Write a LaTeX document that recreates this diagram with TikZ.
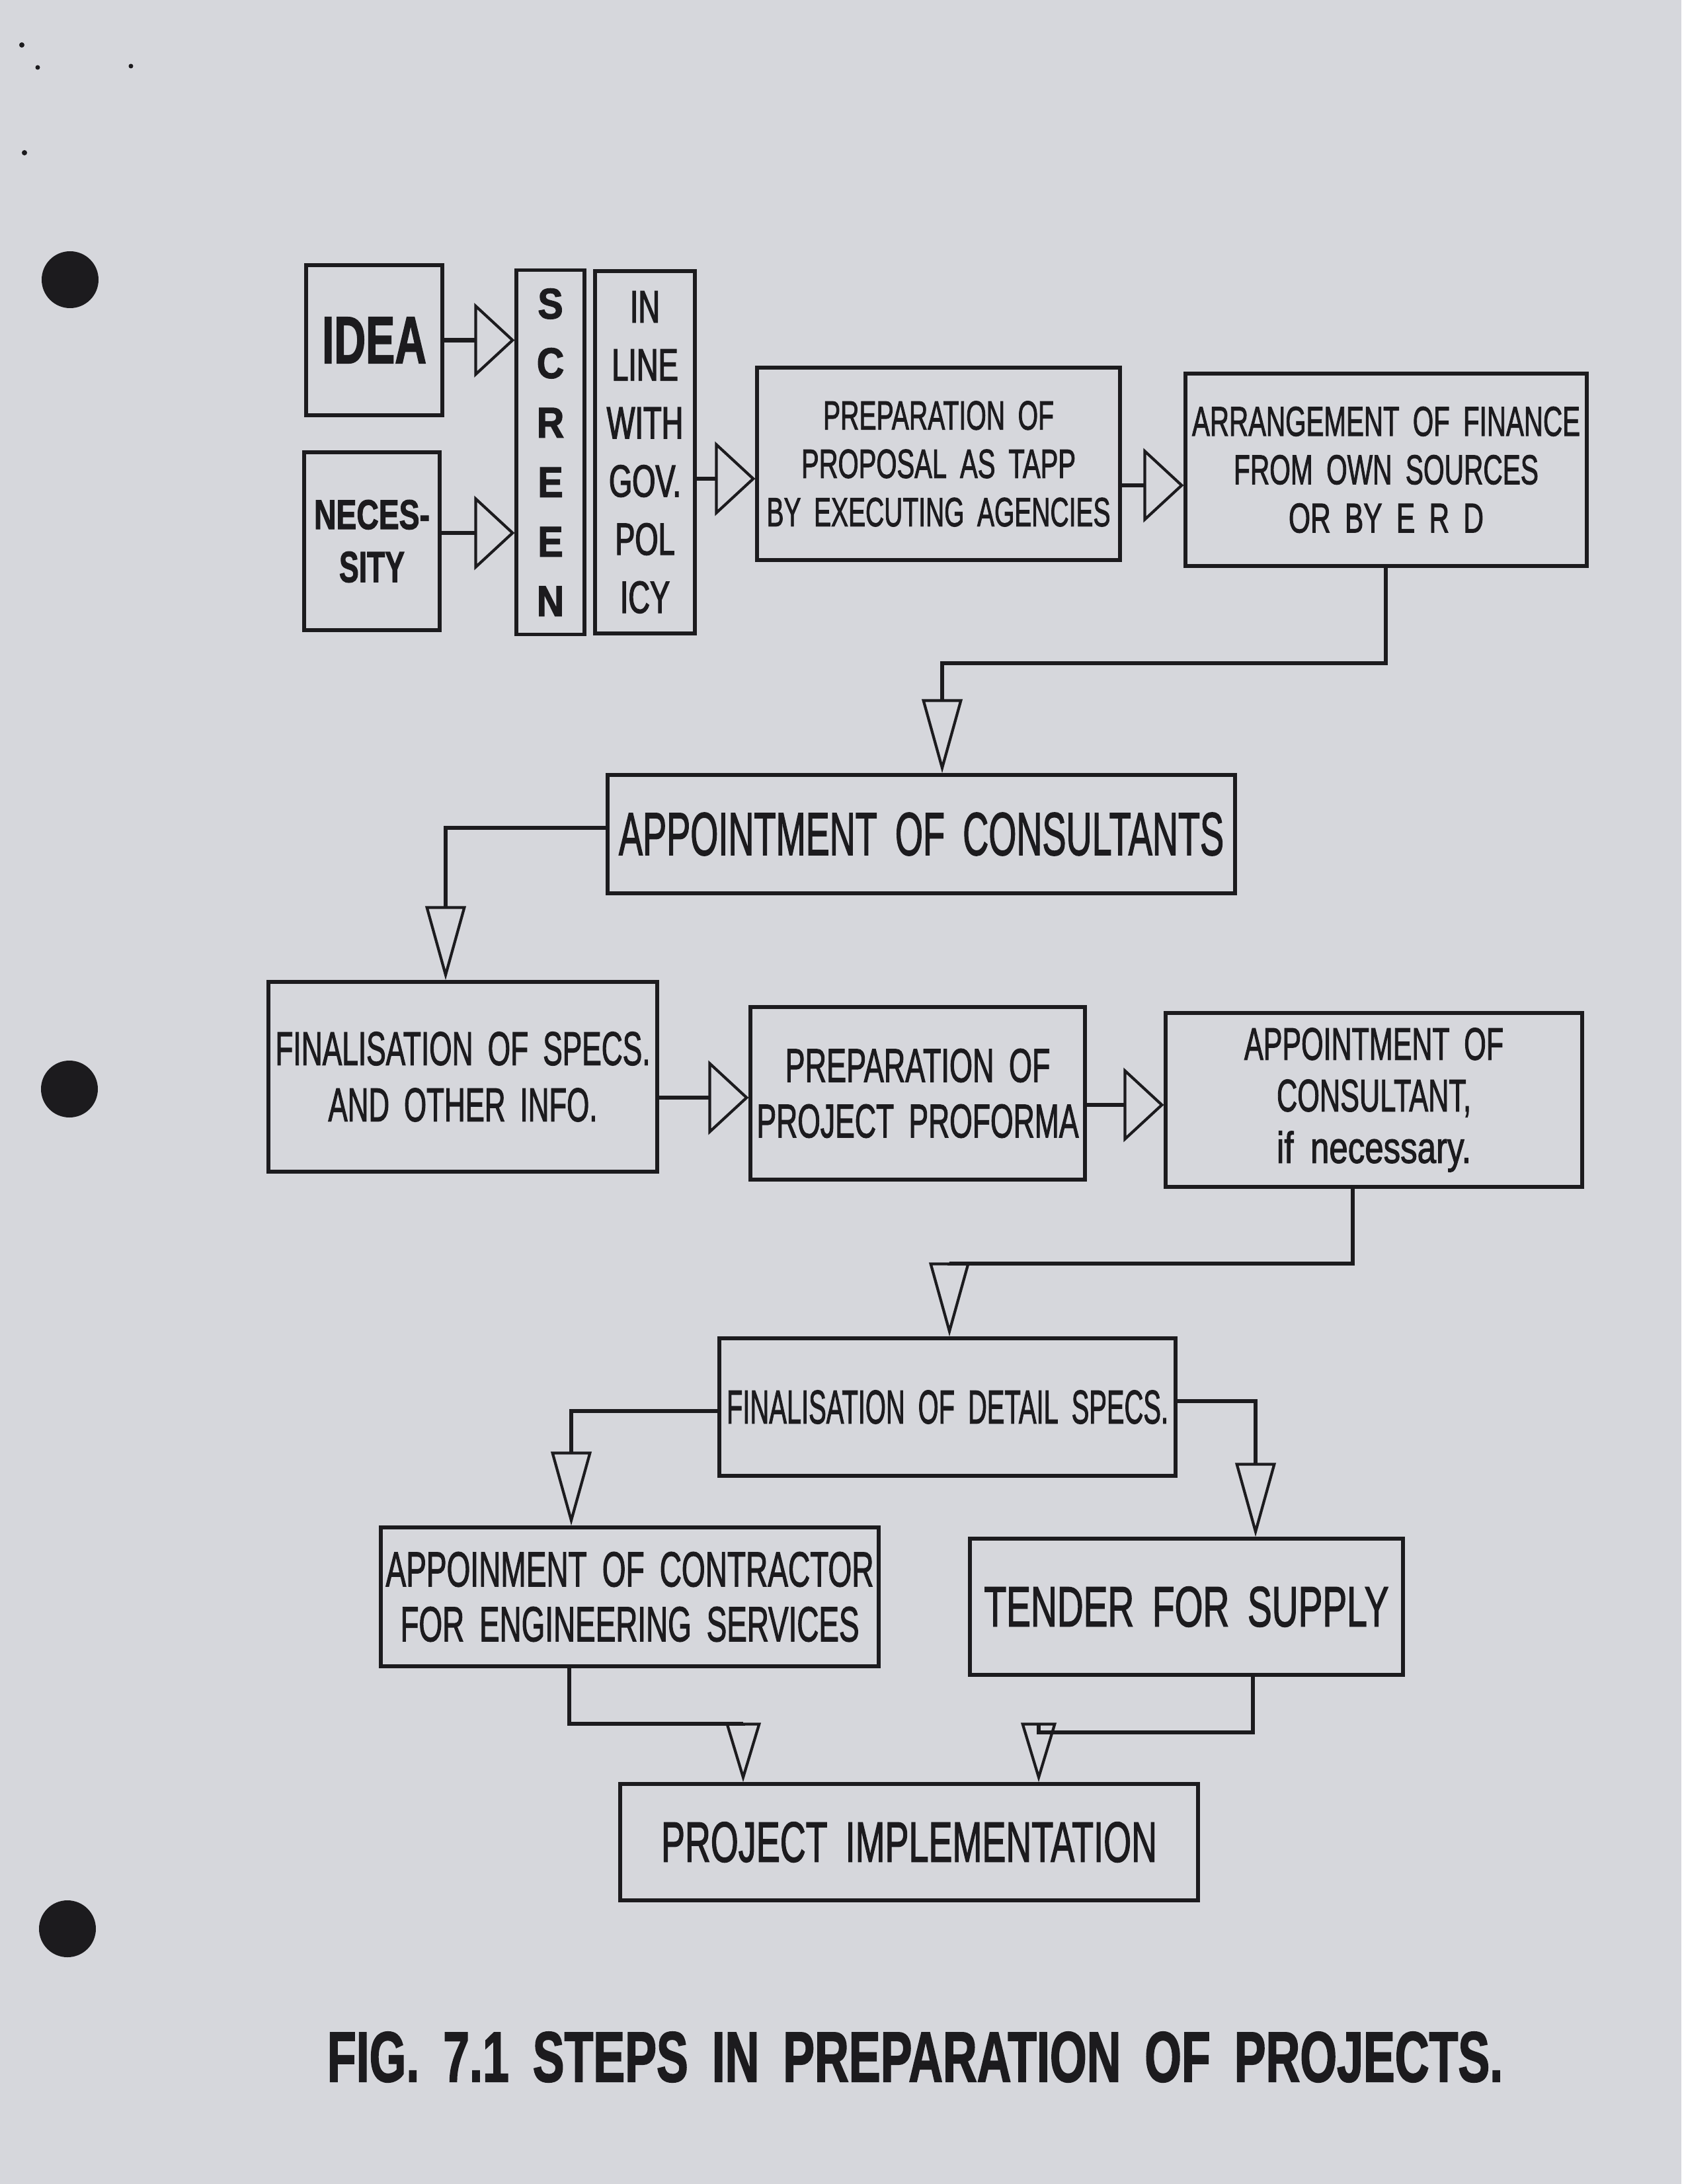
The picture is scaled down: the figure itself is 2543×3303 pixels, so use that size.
\documentclass[tikz,border=0pt]{standalone}
\usepackage{fontspec}
\setmainfont[FakeBold=2]{Liberation Sans}
\newfontfamily\cadS[FakeStretch=0.88,FakeBold=2]{Liberation Sans}
\newfontfamily\cadN[FakeStretch=0.66,FakeBold=2]{Liberation Sans}
\usetikzlibrary{arrows.meta}
\newdimen\pxu \pxu=0.1mm
\newcommand\fl[3]{\resizebox{#1\pxu}{#2\pxu}{\spaceskip=0.5em\relax #3}}
\definecolor{paper}{RGB}{214,215,220}
\definecolor{ink}{RGB}{28,27,30}
\begin{document}
\begin{tikzpicture}[x=0.1mm,y=-0.1mm,
  box/.style={draw=ink, line width=1.5pt, rectangle, inner sep=0pt, align=center, text=ink},
  conn/.style={draw=ink, line width=1.8pt},
  tipH/.style={-{Triangle[open, length=6.1mm, width=11.2mm, line width=1.2pt]}},
  tipV/.style={-{Triangle[open, length=11.2mm, width=6.1mm, line width=1.2pt]}},
  tipVs/.style={-{Triangle[open, length=9.0mm, width=5.3mm, line width=1.2pt]}},
  hole/.style={fill=ink}]
\fill[paper] (0,0) rectangle (2543,3303);
% punch holes and specks of the scanned page
\fill[hole] (106,423) circle[radius=4.3mm];
\fill[hole] (105,1647) circle[radius=4.3mm];
\fill[hole] (102,2917) circle[radius=4.3mm];
\fill[hole] (33,68) circle[radius=0.4mm];
\fill[hole] (57,102) circle[radius=0.35mm];
\fill[hole] (198,100) circle[radius=0.35mm];
\fill[hole] (37,231) circle[radius=0.4mm];
% boxes
\node[box, minimum width=20.6mm, minimum height=22.7mm] (idea) at (566,514.5) {\fl{158}{69}{\bfseries IDEA}};
\node[box, minimum width=20.5mm, minimum height=26.9mm, font=\fontsize{10pt}{22.8pt}\selectfont] (nec) at (562.5,818.5) {\fl{175}{44}{\bfseries NECES-}\\\fl{99}{46}{\bfseries SITY}};
\node[box, minimum width=10.3mm, minimum height=55.1mm, font=\cadS\bfseries\fontsize{18.5pt}{25.6pt}\selectfont] (screen) at (832.5,684) {S\\C\\R\\E\\E\\N};
\node[box, minimum width=15.1mm, minimum height=54.8mm, font=\cadN\fontsize{19.5pt}{25pt}\selectfont] (inline) at (975.5,684) {IN\\LINE\\WITH\\GOV.\\POL\\ICY};
\node[box, minimum width=54.9mm, minimum height=29.1mm, font=\fontsize{10pt}{20.8pt}\selectfont] (prep) at (1419.5,701.5) {\fl{349}{43}{PREPARATION OF}\\\fl{415}{43}{PROPOSAL AS TAPP}\\\fl{520}{43}{BY EXECUTING AGENCIES}};
\node[box, minimum width=60.7mm, minimum height=29.1mm, font=\fontsize{10pt}{20.8pt}\selectfont] (fin) at (2096.5,710.5) {\fl{587}{44}{ARRANGEMENT OF FINANCE}\\\fl{461}{44}{FROM OWN SOURCES}\\\fl{295}{44}{OR BY E R D}};
\node[box, minimum width=94.9mm, minimum height=17.9mm] (cons) at (1393.5,1261.5) {\fl{915}{64}{APPOINTMENT OF CONSULTANTS}};
\node[box, minimum width=58.8mm, minimum height=28.7mm, font=\fontsize{10pt}{24.2pt}\selectfont] (fspec) at (700,1628.5) {\fl{567}{50}{FINALISATION OF SPECS.}\\\fl{407}{50}{AND OTHER INFO.}};
\node[box, minimum width=50.6mm, minimum height=26.1mm, font=\fontsize{10pt}{23.9pt}\selectfont] (proforma) at (1388,1653.5) {\fl{401}{50}{PREPARATION OF}\\\fl{487}{50}{PROJECT PROFORMA}};
\node[box, minimum width=63.0mm, minimum height=26.3mm, font=\fontsize{10pt}{22.2pt}\selectfont] (consult) at (2078,1663.5) {\fl{392}{48}{APPOINTMENT OF}\\\fl{294}{48}{CONSULTANT,}\\\fl{294}{48}{if necessary.}};
\node[box, minimum width=69.0mm, minimum height=20.8mm] (detail) at (1433,2128) {\fl{668}{50}{FINALISATION OF DETAIL SPECS.}};
\node[box, minimum width=75.3mm, minimum height=21.0mm, font=\fontsize{10pt}{23.6pt}\selectfont] (contr) at (952.5,2415) {\fl{738}{52}{APPOINMENT OF CONTRACTOR}\\\fl{694}{52}{FOR ENGINEERING SERVICES}};
\node[box, minimum width=65.5mm, minimum height=20.6mm] (tender) at (1794.5,2430) {\fl{612}{60}{TENDER FOR SUPPLY}};
\node[box, minimum width=87.4mm, minimum height=17.6mm] (pi) at (1375,2786) {\fl{750}{60}{PROJECT IMPLEMENTATION}};
\node[inner sep=0pt, text=ink] (cap) at (1384,3111) {\fl{1778}{75}{\bfseries FIG. 7.1 STEPS IN PREPARATION OF PROJECTS.}};
% turning points
\coordinate (y2) at (0,806);
\coordinate (y3) at (0,724);
\coordinate (y4) at (0,734);
\coordinate (y5) at (0,1660);
\coordinate (y6) at (0,1671);
\coordinate (k1) at (2096,1003);
\coordinate (k2) at (1425,1003);
\coordinate (k3) at (674,1252);
\coordinate (k4) at (2046,1911);
\coordinate (k5) at (1436,1911);
\coordinate (k6) at (864,2134);
\coordinate (k7) at (1899,2119);
\coordinate (k8) at (861,2607);
\coordinate (k9) at (1124,2607);
\coordinate (k10) at (1895,2620);
\coordinate (k11) at (1571,2620);
% connectors
\draw[conn,tipH] (idea.east) -- (idea.east -| screen.west);
\draw[conn,tipH] (nec.east |- y2) -- (screen.west |- y2);
\draw[conn,tipH] (inline.east |- y3) -- (prep.west |- y3);
\draw[conn,tipH] (prep.east |- y4) -- (fin.west |- y4);
\draw[conn,tipV] (fin.south -| k1) -- (k1) -- (k2) -- (cons.north -| k2);
\draw[conn,tipV] (cons.west |- k3) -- (k3) -- (fspec.north -| k3);
\draw[conn,tipH] (fspec.east |- y5) -- (proforma.west |- y5);
\draw[conn,tipH] (proforma.east |- y6) -- (consult.west |- y6);
\draw[conn,tipV] (consult.south -| k4) -- (k4) -- (k5) -- (detail.north -| k5);
\draw[conn,tipV] (detail.west |- k6) -- (k6) -- (contr.north -| k6);
\draw[conn,tipV] (detail.east |- k7) -- (k7) -- (tender.north -| k7);
\draw[conn,tipVs] (contr.south -| k8) -- (k8) -- (k9) -- (pi.north -| k9);
\draw[conn,tipVs] (tender.south -| k10) -- (k10) -- (k11) -- (pi.north -| k11);
\end{tikzpicture}
\end{document}
